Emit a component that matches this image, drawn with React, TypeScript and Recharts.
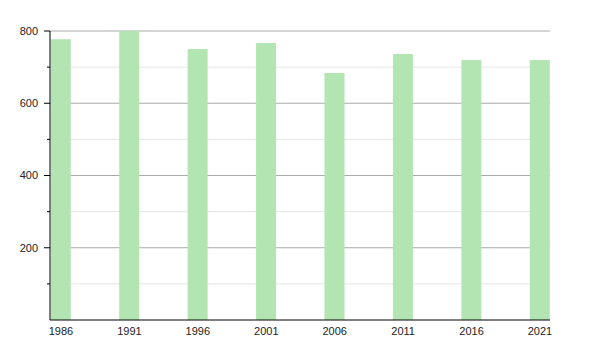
import React from "react";
import { BarChart, Bar, XAxis, YAxis, CartesianGrid } from "recharts";

const years = [1986, 1991, 1996, 2001, 2006, 2011, 2016, 2021];
const population = [777, 800, 750, 767, 684, 736, 720, 720];
const majorTicks = [200, 400, 600, 800];
const minorTicks = [100, 300, 500, 700];
const allYTicks = [100, 200, 300, 400, 500, 600, 700, 800];
const Y_MAX = 800;

const data = years.map((y, i) => ({ year: y, value: population[i] }));

const FONT = "'Liberation Sans', Arial, sans-serif";
const TICK_SIZE = 5;
const TICK_MARGIN = 7;

const YTick = (props: any) => {
  const { x, y, payload } = props;
  const axisX = x + TICK_SIZE + TICK_MARGIN;
  const isMajor = majorTicks.includes(payload.value);
  return (
    <g>
      <line
        x1={axisX - (isMajor ? 6 : 3)}
        x2={axisX}
        y1={y}
        y2={y}
        stroke="#000"
        strokeWidth={1}
      />
      {isMajor && (
        <text
          x={x}
          y={y}
          dy="0.355em"
          textAnchor="end"
          fontSize={11}
          fontFamily={FONT}
          fill="#222"
        >
          {payload.value}
        </text>
      )}
    </g>
  );
};

const gen = (vals: number[]) => (args: any) => {
  const off = args.offset;
  return vals.map((v) => off.top + off.height * (1 - v / Y_MAX));
};

export default function App() {
  return (
    <BarChart
      width={600}
      height={350}
      data={data}
      margin={{ top: 23, right: 58, left: 0, bottom: 8 }}
    >
      <CartesianGrid
        vertical={false}
        stroke="#e6e6e6"
        horizontalCoordinatesGenerator={gen(minorTicks)}
      />
      <CartesianGrid
        vertical={false}
        stroke="#aaaaaa"
        horizontalCoordinatesGenerator={gen(majorTicks)}
      />
      <XAxis
        dataKey="year"
        type="number"
        domain={[1986, 2021]}
        ticks={years}
        padding={{ left: 11, right: 10 }}
        tickLine={false}
        tickSize={0}
        tickMargin={7}
        axisLine={{ stroke: "#000" }}
        tick={{ fontSize: 11, fontFamily: FONT, fill: "#222" }}
        interval={0}
      />
      <YAxis
        width={42}
        domain={[0, Y_MAX]}
        ticks={allYTicks}
        interval={0}
        tickLine={false}
        tickSize={TICK_SIZE}
        tickMargin={TICK_MARGIN}
        axisLine={{ stroke: "#000" }}
        tick={<YTick />}
        allowDataOverflow
      />
      <Bar dataKey="value" fill="#b2e5b2" barSize={20} isAnimationActive={false} />
    </BarChart>
  );
}
